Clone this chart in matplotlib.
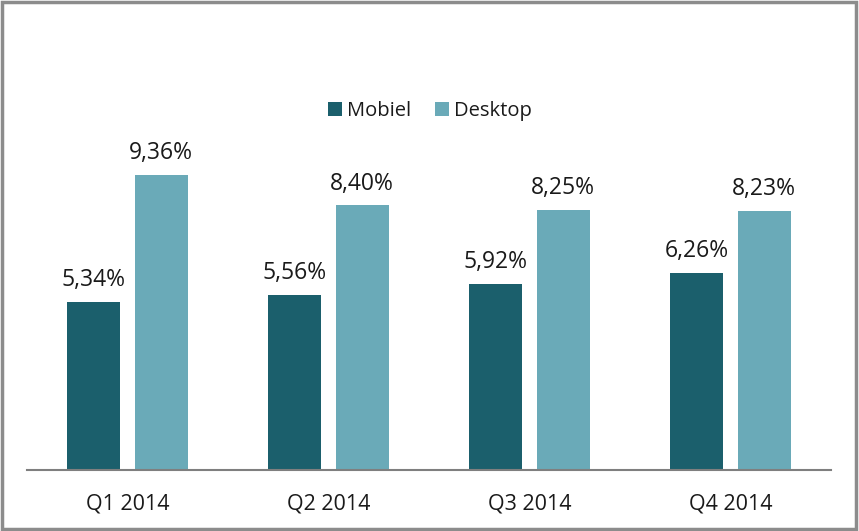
import matplotlib
matplotlib.use("Agg")
import matplotlib.pyplot as plt
from matplotlib.patches import Rectangle
import numpy as np

categories = ["Q1 2014", "Q2 2014", "Q3 2014", "Q4 2014"]
mobiel = [5.34, 5.56, 5.92, 6.26]
desktop = [9.36, 8.40, 8.25, 8.23]
series_names = ["Mobiel", "Desktop"]
colors = ["#1b5f6c", "#6aaab8"]

plt.rcParams['font.family'] = ['Open Sans', 'DejaVu Sans']

fig = plt.figure(figsize=(8.59, 5.31), dpi=100)
W, H = 859, 531
ax = fig.add_axes([27 / W, 1 - 470 / H, (831 - 27) / W, (470 - 50) / H])

x = np.arange(len(categories))
bw = 0.264
off = 0.168
b1 = ax.bar(x - off, mobiel, bw, color=colors[0], label=series_names[0])
b2 = ax.bar(x + off, desktop, bw, color=colors[1], label=series_names[1])

for bars, vals in ((b1, mobiel), (b2, desktop)):
    for r, v in zip(bars, vals):
        ax.annotate(f"{v:.2f}%".replace(".", ","), (r.get_x() + r.get_width() / 2, v),
                    xytext=(0, 7), textcoords="offset points", ha="center", va="bottom",
                    fontsize=16.5, color="#1a1a1a")

ax.set_xlim(-0.5, 3.5)
ax.set_ylim(0, 420 / 31.5)
ax.set_xticks(x)
ax.set_xticklabels(categories, fontsize=15.5, color="#1a1a1a")
ax.tick_params(axis="x", length=0, pad=17)
ax.set_yticks([])
for s in ["top", "right", "left"]:
    ax.spines[s].set_visible(False)
ax.spines["bottom"].set_color("#7f7f7f")
ax.spines["bottom"].set_linewidth(1.5)

leg = fig.legend(loc="center", bbox_to_anchor=(430 / W, 1 - 111 / H), ncol=2, frameon=False,
                 fontsize=14.5, handlelength=0.7, handleheight=0.7, handletextpad=0.25,
                 columnspacing=1.2)
for t in leg.get_texts():
    t.set_color("#1a1a1a")

fig.patches.append(Rectangle((0.002, 0.003), 0.995, 0.993, transform=fig.transFigure,
                             fill=False, edgecolor="#8c8c8c", linewidth=2.5))

fig.savefig("out.png", dpi=100)
